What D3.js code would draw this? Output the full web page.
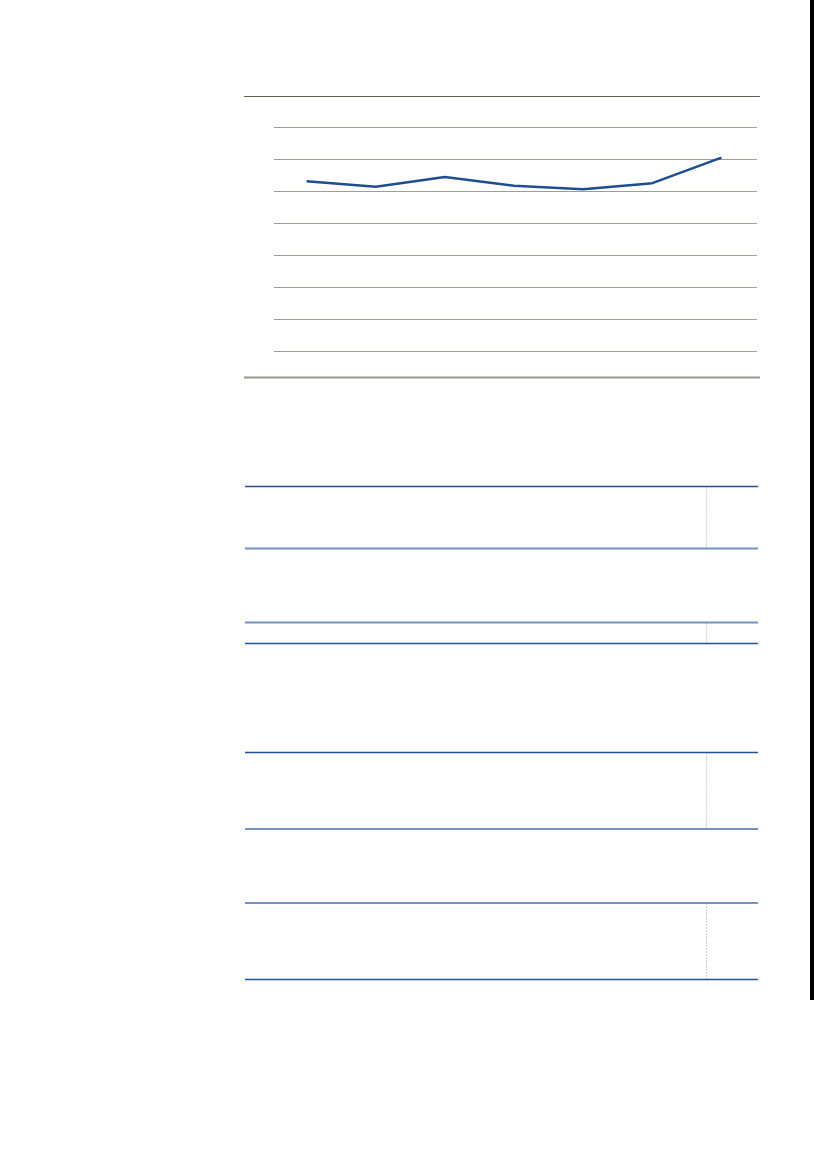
<!DOCTYPE html>
<html>
<head>
<meta charset="utf-8">
<script src="https://cdn.jsdelivr.net/npm/d3@7"></script>
<style>
  body { margin: 0; background: #fff; }
  svg { display: block; }
</style>
</head>
<body>
<div id="winArea"></div>
<script>
// data (no labels are printed on the page)
const categories = ["p1", "p2", "p3", "p4", "p5", "p6", "p7"];
const values = [5.32, 5.15, 5.45, 5.18, 5.07, 5.26, 6.06];
const yTicks = [0, 1, 2, 3, 4, 5, 6, 7];

// page layout
const pageW = 827, pageH = 1169;
const chart = { left: 274, right: 757, top: 127.5, bottom: 351.5, ruleLeft: 244, ruleRight: 760, ruleTop: 96.5, ruleBottom: 377.5 };
// table blocks below the chart
const tables = [
    { top: 486.5, bottom: 548.5, darkTop: true },
    { top: 622.5, bottom: 643.5, darkTop: false },
    { top: 752.5, bottom: 829, darkTop: true },
    { top: 903, bottom: 979.5, darkTop: false }
];
const tableLeft = 245, tableRight = 758, tableSplit = 706.5;

const svg = d3.select("#winArea")
    .append("svg")
    .attr("width", pageW)
    .attr("height", pageH);

//scales
const xScale = d3.scalePoint()
    .domain(categories)
    .range([chart.left - 2, chart.right - 1])
    .padding(0.5);

const yScale = d3.scaleLinear()
    .domain([0, 7])
    .range([chart.bottom, chart.top]);

//frame rules above and below the chart
svg.append("line")
    .attr("x1", chart.ruleLeft).attr("x2", chart.ruleRight)
    .attr("y1", chart.ruleTop).attr("y2", chart.ruleTop)
    .attr("stroke", "#5f6152")
    .attr("stroke-width", 1.2);

svg.append("line")
    .attr("x1", chart.ruleLeft).attr("x2", chart.ruleRight)
    .attr("y1", chart.ruleBottom).attr("y2", chart.ruleBottom)
    .attr("stroke", "#979890")
    .attr("stroke-width", 2);

//gridlines through the axis
svg.append("g")
    .attr("transform", `translate(${chart.left}, 0)`)
    .call(d3.axisRight(yScale)
        .offset(0)
        .tickValues(yTicks)
        .tickSize(chart.right - chart.left)
        .tickFormat(""))
    .call(g => g.select(".domain").remove())
    .call(g => g.selectAll(".tick line")
        .attr("stroke", "#9e9f92")
        .attr("stroke-width", 1));

//the line
const line = d3.line()
    .x((d, i) => xScale(categories[i]))
    .y(d => yScale(d));

svg.append("path")
    .datum(values)
    .attr("fill", "none")
    .attr("stroke", "#1f4e8f")
    .attr("stroke-width", 2.5)
    .attr("stroke-linejoin", "round")
    .attr("d", line);

//empty table blocks
tables.forEach(t => {
    const g = svg.append("g");
    g.append("line")
        .attr("x1", tableSplit).attr("x2", tableSplit)
        .attr("y1", t.top).attr("y2", t.bottom)
        .attr("stroke", "#c5d1e4")
        .attr("stroke-width", 1.2)
        .attr("stroke-dasharray", "2,1");
    [[t.top, t.darkTop], [t.bottom, !t.darkTop]].forEach(([y, dark]) => {
        g.append("line")
            .attr("x1", tableLeft).attr("x2", tableRight)
            .attr("y1", y).attr("y2", y)
            .attr("stroke", dark ? "#234f97" : "#7692c2")
            .attr("stroke-width", dark ? 1.5 : 1.8);
    });
});

//dark bar along the right page edge
svg.append("rect")
    .attr("x", 810)
    .attr("y", 0)
    .attr("width", 4)
    .attr("height", 1000)
    .attr("fill", "#000");
</script>
</body>
</html>
